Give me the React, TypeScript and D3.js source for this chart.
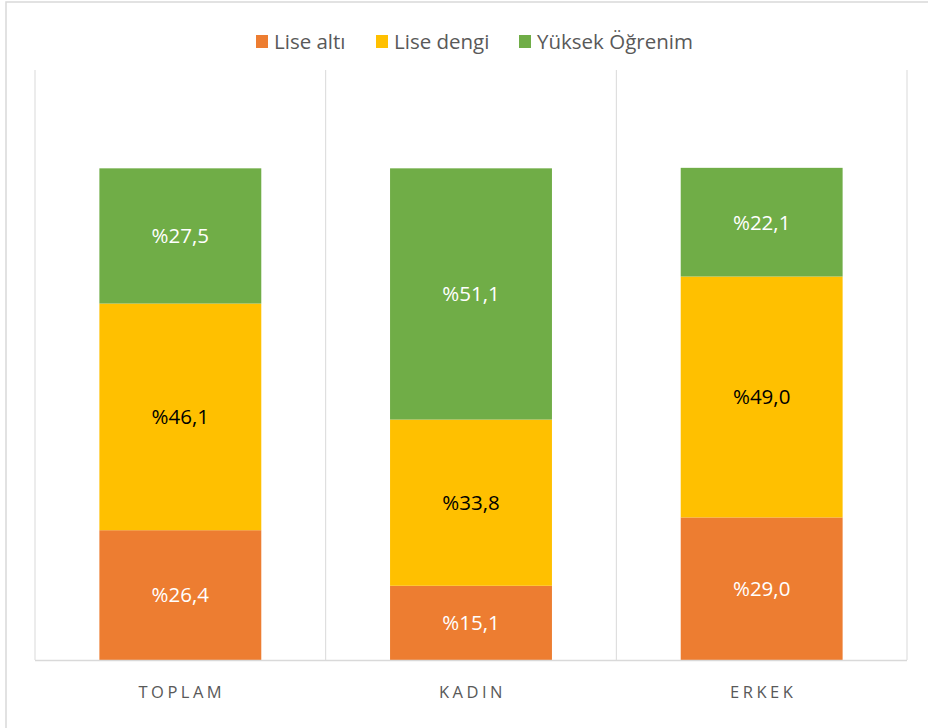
import React from "react";
import * as d3 from "d3";

const categories = ["TOPLAM", "KADIN", "ERKEK"];
const seriesNames = ["Lise altı", "Lise dengi", "Yüksek Öğrenim"];
const liseAlti = [26.4, 15.1, 29.0];
const liseDengi = [46.1, 33.8, 49.0];
const yuksek = [27.5, 51.1, 22.1];
const labelsLiseAlti = ["%26,4", "%15,1", "%29,0"];
const labelsLiseDengi = ["%46,1", "%33,8", "%49,0"];
const labelsYuksek = ["%27,5", "%51,1", "%22,1"];

const colors = ["#ED7D31", "#FFC000", "#70AD47"];
const labelColors = ["#ffffff", "#000000", "#ffffff"];

export default function App() {
  const W = 928;
  const H = 728;
  const left = 35;
  const right = 907;
  const top = 70;
  const bottom = 660;

  const x = d3
    .scaleBand<string>()
    .domain(categories)
    .range([left, right])
    .paddingInner(0.443)
    .paddingOuter(0.2215);
  const y = d3.scaleLinear().domain([0, 120]).range([bottom, top]);

  const rows = categories.map((c, i) => ({
    cat: c,
    v0: liseAlti[i],
    v1: liseDengi[i],
    v2: yuksek[i],
  }));
  const stack = d3.stack<any>().keys(["v0", "v1", "v2"]);
  const series = stack(rows);
  const labelSets = [labelsLiseAlti, labelsLiseDengi, labelsYuksek];

  const legendX = [256, 376, 519];
  const font = "'Open Sans', 'Noto Sans', sans-serif";

  return (
    <svg
      width={W}
      height={H}
      style={{ position: "absolute", left: 0, top: 0, background: "#fff" }}
      fontFamily={font}
    >
      <rect x={0} y={0} width={W} height={H} fill="#fff" />
      <rect
        x={6}
        y={2}
        width={1000}
        height={1000}
        fill="none"
        stroke="#d9d9d9"
        strokeWidth={1.5}
      />
      {/* vertical grid lines */}
      {[0, 1, 2, 3].map((k) => {
        const gx = left + x.step() * k;
        return (
          <line
            key={k}
            x1={gx}
            x2={gx}
            y1={top}
            y2={bottom}
            stroke="#d9d9d9"
            strokeWidth={1}
          />
        );
      })}
      {/* bars */}
      {series.map((s, si) =>
        s.map((d, i) => {
          const x0 = x(categories[i])!;
          const y0 = y(d[1]);
          const h = y(d[0]) - y(d[1]);
          return (
            <g key={`${si}-${i}`}>
              <rect
                x={x0}
                y={y0}
                width={x.bandwidth()}
                height={h}
                fill={colors[si]}
              />
              <text
                x={x0 + x.bandwidth() / 2}
                y={y0 + h / 2}
                dy="0.36em"
                textAnchor="middle"
                fontSize={20.5}
                fill={labelColors[si]}
              >
                {labelSets[si][i]}
              </text>
            </g>
          );
        })
      )}
      {/* axis line */}
      <line
        x1={left}
        x2={right}
        y1={bottom + 0.5}
        y2={bottom + 0.5}
        stroke="#d9d9d9"
        strokeWidth={1.5}
      />
      {categories.map((c) => (
        <text
          key={c}
          x={x(c)! + x.bandwidth() / 2 + 1.5}
          y={698}
          textAnchor="middle"
          fontSize={16.5}
          letterSpacing={3.5}
          fill="#595959"
        >
          {c}
        </text>
      ))}
      {/* legend */}
      {seriesNames.map((n, i) => (
        <g key={n} transform={`translate(${legendX[i]},0)`}>
          <rect x={0} y={35} width={12} height={13} fill={colors[i]} />
          <text x={18} y={48.5} fontSize={20.5} fill="#595959">
            {n}
          </text>
        </g>
      ))}
    </svg>
  );
}
